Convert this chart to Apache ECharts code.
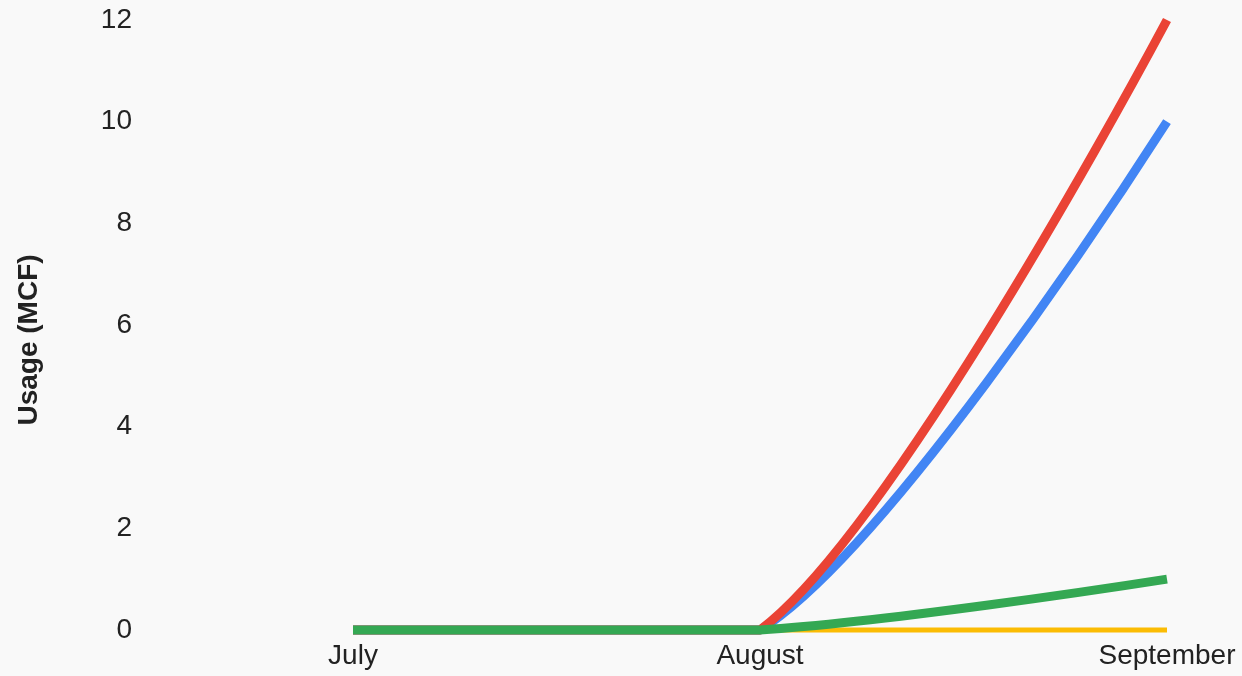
<!DOCTYPE html>
<html>
<head>
<meta charset="utf-8">
<script src="https://cdn.jsdelivr.net/npm/echarts@6/dist/echarts.min.js"></script>
<style>
html,body{margin:0;padding:0;background:#f9f9f9;}
#c{width:1242px;height:676px;}
</style>
</head>
<body>
<div id="c"></div>
<script>
const months = ['July', 'August', 'September'];
const blueSeries = [0, 0, 10];
const redSeries = [0, 0, 12];
const yellowSeries = [0, 0, 0];
const greenSeries = [0, 0, 1];
const yTicks = [0, 2, 4, 6, 8, 10, 12];
const yTitle = 'Usage (MCF)';

const font = '"Liberation Sans", Arial, sans-serif';
const chart = echarts.init(document.getElementById('c'), null, {renderer: 'canvas'});

// Smooth curve through the points, built from the axis coordinates of the data.
function curvePath(values, api) {
  const k = 0.15;
  const P = values.map((v, i) => api.coord([i, v]));
  const n = P.length;
  if (n < 2) return '';
  const S = [];
  for (let i = 0; i < n - 1; i++) S[i] = (P[i + 1][1] - P[i][1]) / (P[i + 1][0] - P[i][0]);
  const m = [], w = [];
  for (let i = 1; i < n - 1; i++) {
    m[i] = (P[i + 1][1] - P[i - 1][1]) / (P[i + 1][0] - P[i - 1][0]);
    w[i] = k * (P[i + 1][0] - P[i - 1][0]);
  }
  m[0] = n > 2 ? (3 * S[0] - m[1]) / 2 : S[0];
  m[n - 1] = n > 2 ? (3 * S[n - 2] - m[n - 2]) / 2 : S[n - 2];
  w[0] = k * (P[1][0] - P[0][0]);
  w[n - 1] = k * (P[n - 1][0] - P[n - 2][0]);
  let d = 'M' + P[0][0] + ' ' + P[0][1];
  for (let i = 0; i < n - 1; i++) {
    const lo = Math.min(P[i][1], P[i + 1][1]), hi = Math.max(P[i][1], P[i + 1][1]);
    const clamp = y => Math.max(lo, Math.min(hi, y));
    const c1x = P[i][0] + w[i], c1y = clamp(P[i][1] + w[i] * m[i]);
    const c2x = P[i + 1][0] - w[i + 1], c2y = clamp(P[i + 1][1] - w[i + 1] * m[i + 1]);
    d += ' C' + c1x + ' ' + c1y + ' ' + c2x + ' ' + c2y + ' ' + P[i + 1][0] + ' ' + P[i + 1][1];
  }
  return d;
}

function line(name, values, color, width) {
  return {
    name: name, type: 'custom', clip: false, silent: true,
    data: values.map((v, i) => [i, v]),
    encode: {x: 0, y: 1},
    renderItem: function (params, api) {
      if (params.dataIndex !== 0) return null;
      return {
        type: 'path',
        shape: {pathData: curvePath(values, api)},
        style: {stroke: color, lineWidth: width, fill: null, lineCap: 'butt', lineJoin: 'round'}
      };
    },
    animation: false
  };
}

chart.setOption({
  backgroundColor: '#f9f9f9',
  animation: false,
  grid: {left: 353, right: 75, top: 20, bottom: 46, containLabel: false},
  xAxis: {
    type: 'category', data: months, boundaryGap: false,
    axisLine: {show: false}, axisTick: {show: false}, splitLine: {show: false},
    axisLabel: {color: '#222', fontSize: 28, fontFamily: font, margin: 12}
  },
  yAxis: {
    type: 'value', min: yTicks[0], max: yTicks[yTicks.length - 1], interval: 2,
    axisLine: {show: false}, axisTick: {show: false}, splitLine: {show: false},
    axisLabel: {color: '#222', fontSize: 28, fontFamily: font, margin: 221}
  },
  graphic: [{
    type: 'text', x: 29, y: 340, rotation: Math.PI / 2,
    style: {text: yTitle, fill: '#222', font: 'bold 28px ' + font, align: 'center', verticalAlign: 'middle'}
  }],
  series: [
    line('Blue', blueSeries, '#4285F4', 9),
    line('Red', redSeries, '#EA4335', 9),
    line('Yellow', yellowSeries, '#FBBC04', 5),
    line('Green', greenSeries, '#34A853', 9)
  ]
});
</script>
</body>
</html>
